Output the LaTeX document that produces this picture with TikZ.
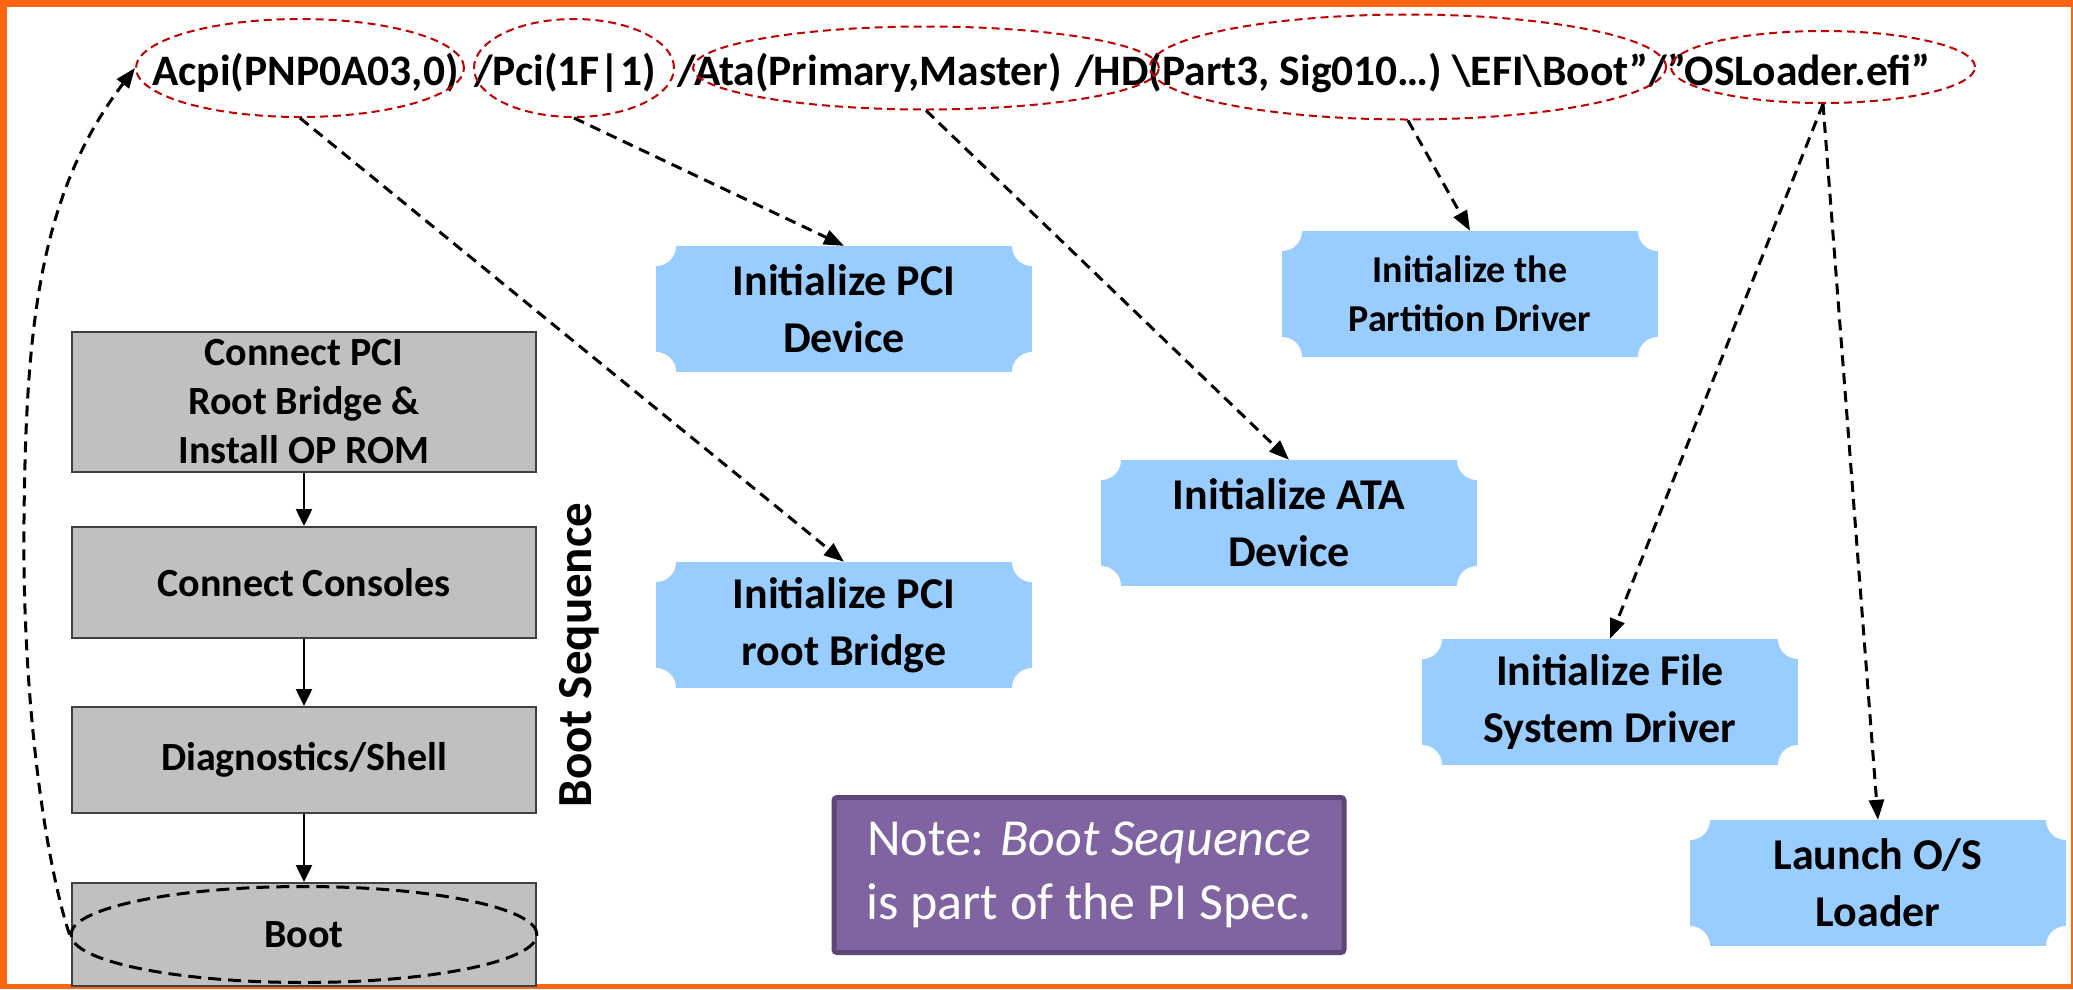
\documentclass[tikz,border=0pt]{standalone}
\usepackage{fontspec}
\setmainfont{Carlito}
\usepackage{tikz}
\usetikzlibrary{positioning,shapes.geometric,arrows.meta}

\definecolor{framecol}{HTML}{FF6611}
\definecolor{ellred}{HTML}{C00000}
\definecolor{initblue}{HTML}{99CCFF}
\definecolor{seqgray}{HTML}{C0C0C0}
\definecolor{seqline}{HTML}{404040}
\definecolor{notefill}{HTML}{8064A2}
\definecolor{noteline}{HTML}{5C4776}

\tikzset{
  pathtxt/.style={anchor=base west, inner sep=0pt, font=\bfseries\fontsize{43.5}{52}\selectfont},
  pathell/.style={ellipse, draw=ellred, line width=2pt, dash pattern=on 8pt off 5pt, inner sep=0pt},
  initbox/.style={rectangle, fill=initblue, minimum width=376pt, minimum height=126pt, align=center,
    font=\bfseries\fontsize{44}{57}\selectfont,
    path picture={\foreach \corner in {north west,north east,south west,south east}
      \fill[white] (path picture bounding box.\corner) circle (20pt);}},
  seqbox/.style={rectangle, draw=seqline, line width=2pt, fill=seqgray, minimum width=464pt,
    inner ysep=0pt, align=center, font=\bfseries\fontsize{40}{49}\selectfont},
  seqarrow/.style={-{Triangle[length=17pt,width=16pt]}, line width=2.5pt},
  dasharrow/.style={-{Triangle[length=20pt,width=15pt]}, line width=3pt, dash pattern=on 11pt off 7pt}
}

\begin{document}
\begin{tikzpicture}[x=1pt,y=-1pt]
\useasboundingbox (0,0) rectangle (2073,989);
\fill[framecol] (0,0) rectangle (2073,989);
\fill[white] (7,7) rectangle (2071,984);

% device path
\node[pathtxt] (acpitxt) at (152,85) {Acpi(PNP0A03,0)};
\node[pathtxt] (pcitxt) at (474,85) {/Pci(1F|1)};
\node[pathtxt] (atatxt) at (677,85) {/Ata(Primary,Master)};
\node[pathtxt] (hdtxt) at (1075,85) {/HD(Part3, Sig010…)};
\node[pathtxt] (ostxt) at (1452,85) {\textbackslash EFI\textbackslash Boot”/”OSLoader.efi”};
\node[pathell, minimum width=328pt, minimum height=98pt] (acpiell) at (300,68) {};
\node[pathell, minimum width=200pt, minimum height=98pt] (pciell) at (574,68) {};
\node[pathell, minimum width=466pt, minimum height=83pt] (ataell) at (926,68) {};
\node[pathell, minimum width=516pt, minimum height=105pt] (hdell) at (1408,67) {};
\node[pathell, minimum width=304pt, minimum height=72pt] (osell) at (1823,67) {};

% drivers
\node[initbox] (pcidev) at (844,309) {Initialize PCI\\Device};
\node[initbox, font=\bfseries\fontsize{38}{49}\selectfont] (partdrv) at (1470,294) {Initialize the\\Partition Driver};
\node[initbox] (pcibridge) at (844,625) {Initialize PCI\\root Bridge};
\node[initbox] (atadev) at (1289,523) {Initialize ATA\\Device};
\node[initbox] (fsdrv) at (1610,702) {Initialize File\\System Driver};
\node[initbox] (launch) at (1878,883) {Launch O/S\\Loader};

% boot sequence
\node[seqbox, minimum height=140pt] (connpci) at (304,402) {Connect PCI\\Root Bridge \&\\Install OP ROM};
\node[seqbox, minimum height=111pt, below=53pt of connpci] (consoles) {Connect Consoles};
\node[seqbox, minimum height=106pt, below=67pt of consoles] (diag) {Diagnostics/Shell};
\node[seqbox, minimum height=103pt, below=68pt of diag] (boot) {Boot};
\node[ellipse, draw, line width=3pt, dash pattern=on 13pt off 7pt, minimum width=466pt, minimum height=96pt] (bootell) at (boot) {};
\node[rotate=90, font=\bfseries\fontsize{49}{58}\selectfont] (bootseq) at (579,655) {Boot Sequence};

\node[rectangle, fill=notefill, draw=noteline, line width=5pt, rounded corners=3pt, minimum width=510pt,
  minimum height=155pt, align=center, text=white, font=\fontsize{52}{64}\selectfont] (note) at (1089,875)
  {Note: \textit{Boot Sequence}\\is part of the PI Spec.};

\foreach \src/\dst in {connpci/consoles,consoles/diag,diag/boot}
  \draw[seqarrow] (\src) -- (\dst);
\foreach \src/\dst in {acpiell/pcibridge,pciell/pcidev,ataell/atadev,hdell/partdrv,osell/fsdrv,osell/launch}
  \draw[dasharrow] (\src.south) -- (\dst.north);
\draw[dasharrow] (bootell.west) .. controls (45,860) and (22,700) .. (24,520)
  .. controls (26,330) and (38,195) .. (acpiell.west);
\end{tikzpicture}
\end{document}
